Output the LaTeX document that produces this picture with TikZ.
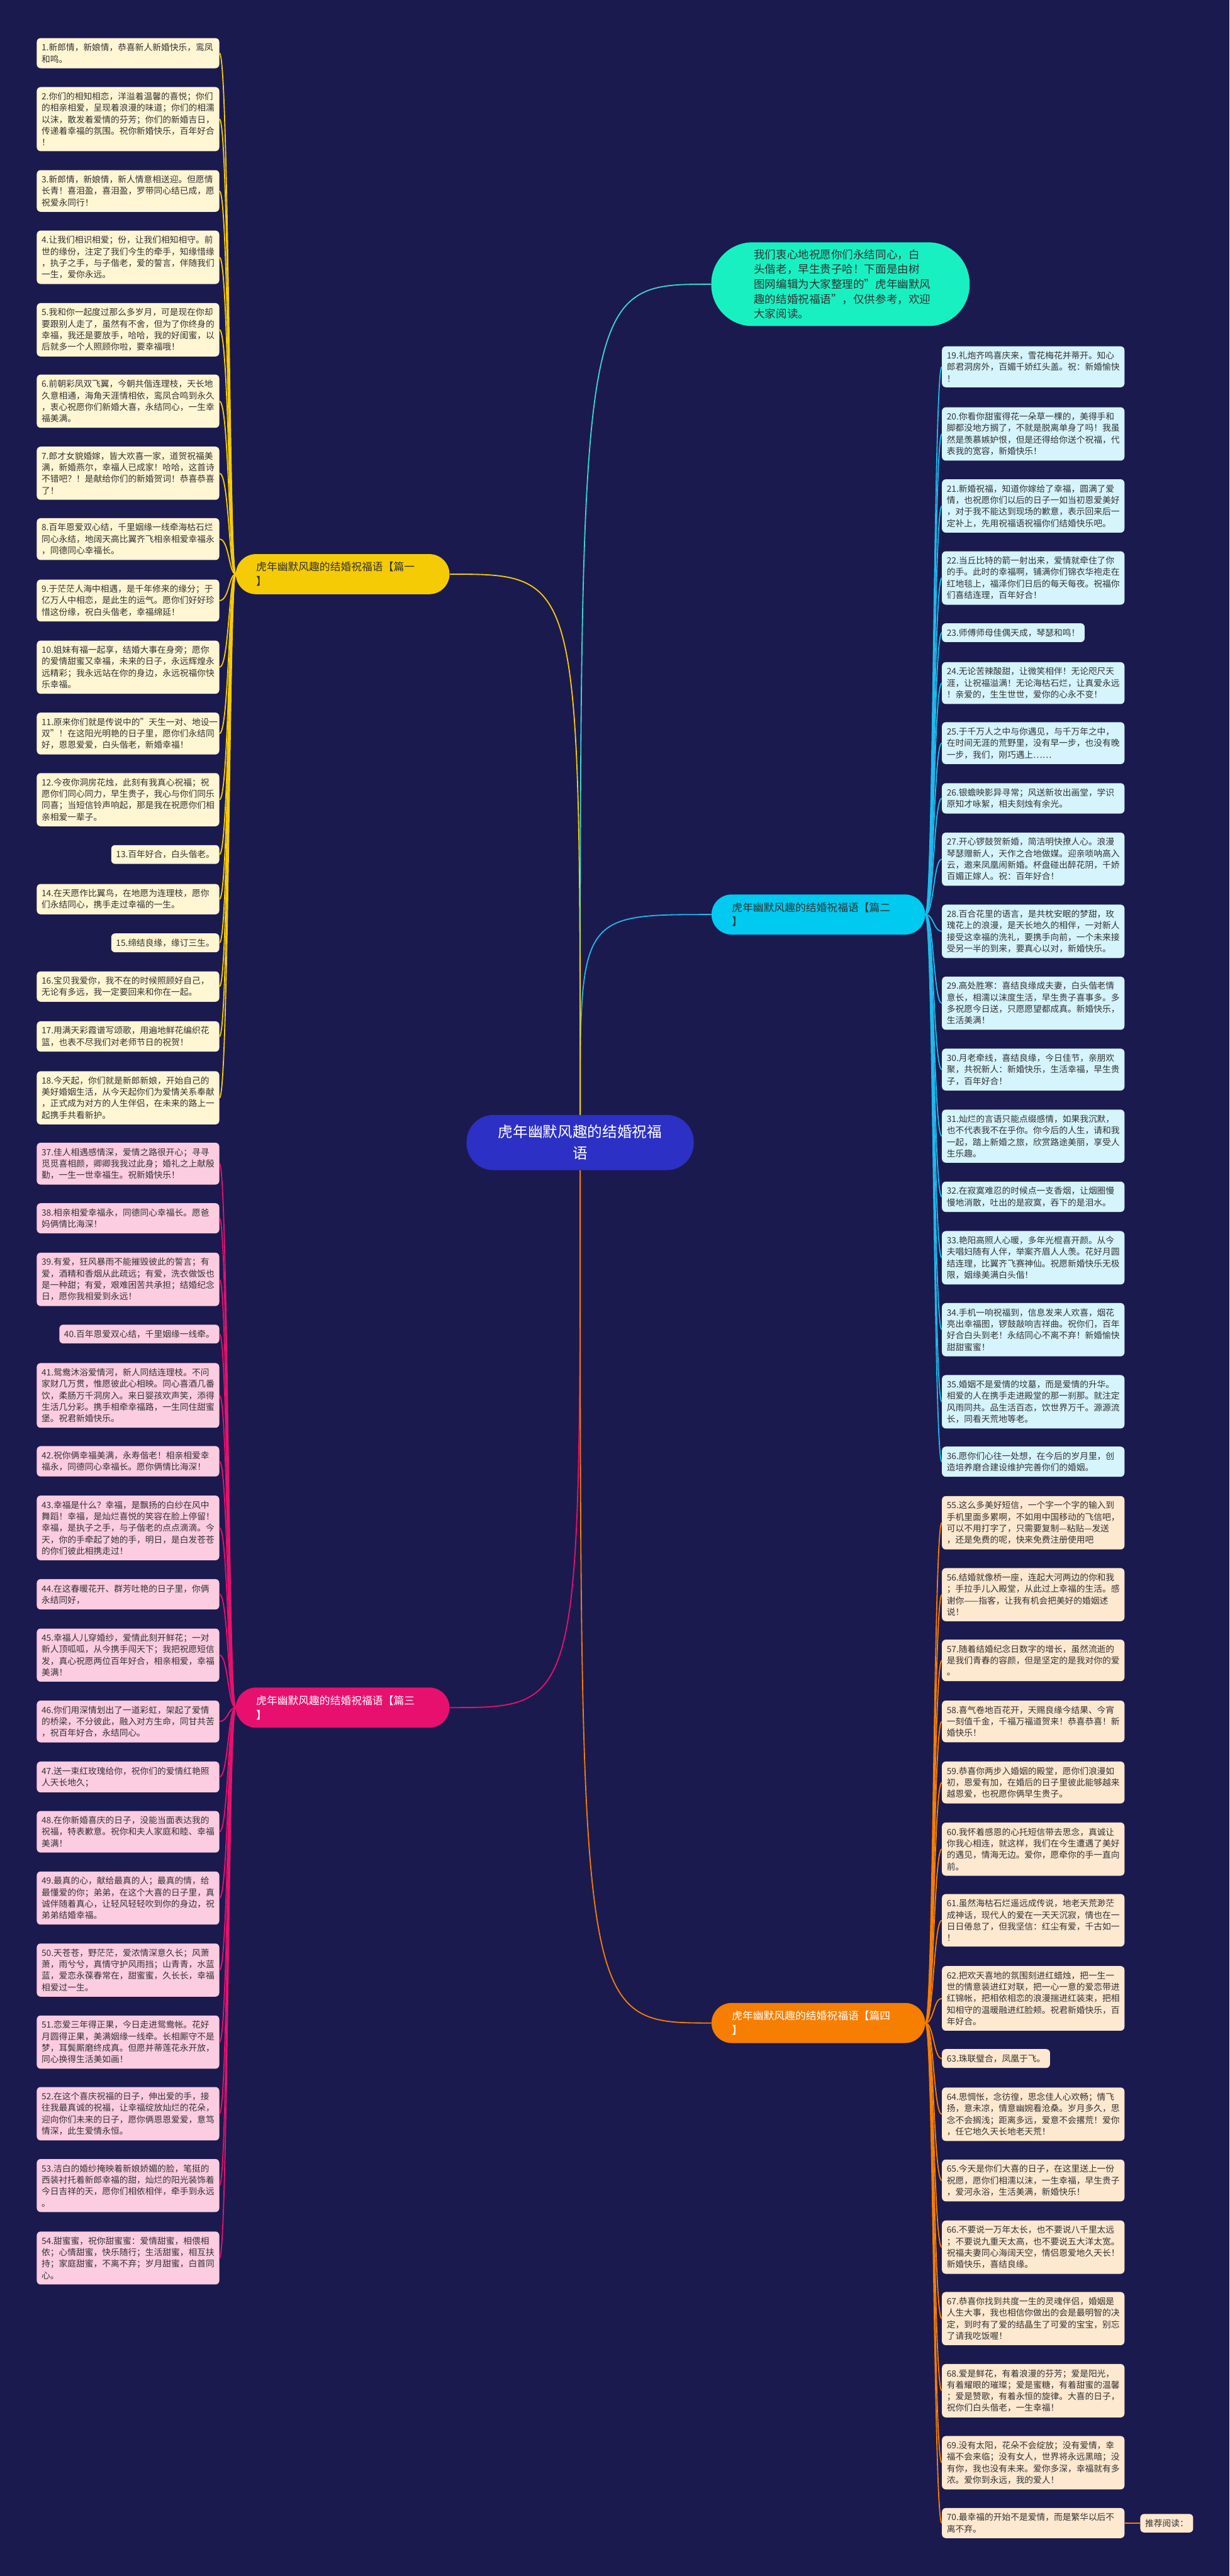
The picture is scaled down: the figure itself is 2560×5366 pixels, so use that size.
\documentclass[tikz,border=0pt]{standalone}
\usepackage{fontspec}
\setmainfont{Noto Sans CJK SC}
\definecolor{bgcol}{HTML}{1B1A4F}
\definecolor{rootcol}{HTML}{2D30C4}
\definecolor{introcol}{HTML}{19F0C2}
\definecolor{introline}{HTML}{38D8CA}
\definecolor{ycol}{HTML}{F5CB05}
\definecolor{yleafcol}{HTML}{FFF6D3}
\definecolor{ccol}{HTML}{00CAF0}
\definecolor{clinecol}{HTML}{1FB9EA}
\definecolor{cleafcol}{HTML}{D5F4FC}
\definecolor{pcol}{HTML}{E8106F}
\definecolor{pleafcol}{HTML}{FCCCE1}
\definecolor{ocol}{HTML}{F67E00}
\definecolor{oleafcol}{HTML}{FDE8D0}
\definecolor{txtcol}{HTML}{333333}
\tikzset{
    leafbase/.style={inner xsep=5pt, inner ysep=5.5pt, rounded corners=4pt, align=left, text=txtcol, font=\fontsize{9pt}{12pt}\selectfont},
    leaf/.style={leafbase, text width=180pt},
    yleaf/.style={leaf, fill=yleafcol, anchor=north east},
    cleaf/.style={leaf, fill=cleafcol, anchor=north west},
    pleaf/.style={leaf, fill=pleafcol, anchor=north east},
    oleaf/.style={leaf, fill=oleafcol, anchor=north west},
    branch/.style={text width=180pt, inner xsep=21.25pt, inner ysep=8.25pt, rounded corners=21pt, align=left, font=\fontsize{11pt}{15pt}\selectfont},
    root/.style={fill=rootcol, text=white, minimum width=236.5pt, minimum height=57.5pt, rounded corners=28pt, align=center, font=\fontsize{15.5pt}{22pt}\selectfont},
    intro/.style={fill=introcol, text=txtcol, text width=180pt, inner xsep=44.5pt, inner ysep=7.25pt, rounded corners=43pt, align=left, font=\fontsize{11.5pt}{15.5pt}\selectfont},
    yline/.style={draw=ycol, line width=1.2pt},
    cline/.style={draw=clinecol, line width=1.2pt},
    pline/.style={draw=pcol, line width=1.2pt},
    oline/.style={draw=ocol, line width=1.2pt},
    iline/.style={draw=introline, line width=1.2pt}
}
\begin{document}
\begin{tikzpicture}[x=0.5pt, y=-0.5pt]
        \useasboundingbox (0,0) rectangle (2560,5366);
        \fill[bgcol] (0,0) rectangle (2560,5366);

        \node[root] (root) at (1208,2380) {虎年幽默风趣的结婚祝福\\语};
        \node[intro] (intro) at (1750,592) {我们衷心地祝愿你们永结同心，白\\头偕老，早生贵子哈！下面是由树\\图网编辑为大家整理的"虎年幽默风\\趣的结婚祝福语"，仅供参考，欢迎\\大家阅读。};
        \node[branch, fill=ycol, text=txtcol] (p1) at (713.5,1196) {虎年幽默风趣的结婚祝福语【篇一\\】};
        \node[branch, fill=ccol, text=txtcol] (p2) at (1704,1905) {虎年幽默风趣的结婚祝福语【篇二\\】};
        \node[branch, fill=pcol, text=white] (p3) at (713.5,3557) {虎年幽默风趣的结婚祝福语【篇三\\】};
        \node[branch, fill=ocol, text=white] (p4) at (1704,4214) {虎年幽默风趣的结婚祝福语【篇四\\】};

        \node[yleaf] (l1) at (457,79) {1.新郎情，新娘情，恭喜新人新婚快乐，鸾凤\\和鸣。};
        \node[yleaf] (l2) at (457,181) {2.你们的相知相恋，洋溢着温馨的喜悦；你们\\的相亲相爱，呈现着浪漫的味道；你们的相濡\\以沫，散发着爱情的芬芳；你们的新婚吉日，\\传递着幸福的氛围。祝你新婚快乐，百年好合\\！};
        \node[yleaf] (l3) at (457,354) {3.新郎情，新娘情，新人情意相送迎。但愿情\\长青！喜泪盈，喜泪盈，罗带同心结已成，愿\\祝爱永同行！};
        \node[yleaf] (l4) at (457,480) {4.让我们相识相爱；份，让我们相知相守。前\\世的缘份，注定了我们今生的牵手，知缘惜缘\\，执子之手，与子偕老，爱的誓言，伴随我们\\一生，爱你永远。};
        \node[yleaf] (l5) at (457,631) {5.我和你一起度过那么多岁月，可是现在你却\\要跟别人走了，虽然有不舍，但为了你终身的\\幸福，我还是要放手，哈哈，我的好闺蜜，以\\后就多一个人照顾你啦，要幸福哦！};
        \node[yleaf] (l6) at (457,780) {6.前朝彩凤双飞翼，今朝共偕连理枝，天长地\\久意相通，海角天涯情相依，鸾凤合鸣到永久\\，衷心祝愿你们新婚大喜，永结同心，一生幸\\福美满。};
        \node[yleaf] (l7) at (457,930) {7.郎才女貌婚嫁，皆大欢喜一家，道贺祝福美\\满，新婚燕尔，幸福人已成家！哈哈，这首诗\\不错吧？！是献给你们的新婚贺词！恭喜恭喜\\了！};
        \node[yleaf] (l8) at (457,1079) {8.百年恩爱双心结，千里姻缘一线牵海枯石烂\\同心永结，地阔天高比翼齐飞相亲相爱幸福永\\，同德同心幸福长。};
        \node[yleaf] (l9) at (457,1207) {9.于茫茫人海中相遇，是千年修来的缘分；于\\亿万人中相恋，是此生的运气。愿你们好好珍\\惜这份缘，祝白头偕老，幸福绵延！};
        \node[yleaf] (l10) at (457,1334) {10.姐妹有福一起享，结婚大事在身旁；愿你\\的爱情甜蜜又幸福，未来的日子，永远辉煌永\\远精彩；我永远站在你的身边，永远祝福你快\\乐幸福。};
        \node[yleaf] (l11) at (457,1484) {11.原来你们就是传说中的"天生一对、地设一\\双"！在这阳光明艳的日子里，愿你们永结同\\好，恩恩爱爱，白头偕老，新婚幸福！};
        \node[yleaf] (l12) at (457,1610) {12.今夜你洞房花烛，此刻有我真心祝福；祝\\愿你们同心同力，早生贵子，我心与你们同乐\\同喜；当短信铃声响起，那是我在祝愿你们相\\亲相爱一辈子。};
        \node[yleaf, text width=] (l13) at (457,1760) {13.百年好合，白头偕老。};
        \node[yleaf] (l14) at (457,1841) {14.在天愿作比翼鸟，在地愿为连理枝，愿你\\们永结同心，携手走过幸福的一生。};
        \node[yleaf, text width=] (l15) at (457,1944) {15.缔结良缘，缘订三生。};
        \node[yleaf] (l16) at (457,2023) {16.宝贝我爱你，我不在的时候照顾好自己，\\无论有多远，我一定要回来和你在一起。};
        \node[yleaf] (l17) at (457,2127) {17.用满天彩霞谱写颂歌，用遍地鲜花编织花\\篮，也表不尽我们对老师节日的祝贺！};
        \node[yleaf] (l18) at (457,2231) {18.今天起，你们就是新郎新娘，开始自己的\\美好婚姻生活，从今天起你们为爱情关系奉献\\，正式成为对方的人生伴侣，在未来的路上一\\起携手共看新护。};

        \node[cleaf] (l19) at (1961,721) {19.礼炮齐鸣喜庆来，雪花梅花并蒂开。知心\\郎君洞房外，百媚千娇红头盖。祝：新婚愉快\\！};
        \node[cleaf] (l20) at (1961,848) {20.你看你甜蜜得花一朵草一棵的，美得手和\\脚都没地方搁了，不就是脱离单身了吗！我虽\\然是羡慕嫉妒恨，但是还得给你送个祝福，代\\表我的宽容，新婚快乐！};
        \node[cleaf] (l21) at (1961,998) {21.新婚祝福，知道你嫁给了幸福，圆满了爱\\情，也祝愿你们以后的日子一如当初恩爱美好\\，对于我不能达到现场的歉意，表示回来后一\\定补上，先用祝福语祝福你们结婚快乐吧。};
        \node[cleaf] (l22) at (1961,1148) {22.当丘比特的箭一射出来，爱情就牵住了你\\的手。此时的幸福啊，铺满你们锦衣华袍走在\\红地毯上，福泽你们日后的每天每夜。祝福你\\们喜结连理，百年好合！};
        \node[cleaf, text width=] (l23) at (1961,1298) {23.师傅师母佳偶天成，琴瑟和鸣！};
        \node[cleaf] (l24) at (1961,1379) {24.无论苦辣酸甜，让微笑相伴！无论咫尺天\\涯，让祝福溢满！无论海枯石烂，让真爱永远\\！亲爱的，生生世世，爱你的心永不变！};
        \node[cleaf] (l25) at (1961,1504) {25.于千万人之中与你遇见，与千万年之中，\\在时间无涯的荒野里，没有早一步，也没有晚\\一步，我们，刚巧遇上……};
        \node[cleaf] (l26) at (1961,1631) {26.银蟾映影异寻常；风送新妆出画堂，学识\\原知才咏絮，相夫刻烛有余光。};
        \node[cleaf] (l27) at (1961,1734) {27.开心锣鼓贺新婚，简洁明快撩人心。浪漫\\琴瑟赠新人，天作之合地做媒。迎亲唢呐高入\\云，邀来凤凰闹新婚。杯盘碰出醉花阴，千娇\\百媚正嫁人。祝：百年好合！};
        \node[cleaf] (l28) at (1961,1884) {28.百合花里的语言，是共枕安眠的梦甜，玫\\瑰花上的浪漫，是天长地久的相伴，一对新人\\接受这幸福的洗礼，要携手向前，一个未来接\\受另一半的到来，要真心以对，新婚快乐。};
        \node[cleaf] (l29) at (1961,2034) {29.高处胜寒：喜结良缘成夫妻，白头偕老情\\意长，相濡以沫度生活，早生贵子喜事多。多\\多祝愿今日送，只愿愿望都成真。新婚快乐，\\生活美满！};
        \node[cleaf] (l30) at (1961,2184) {30.月老牵线，喜结良缘，今日佳节，亲朋欢\\聚，共祝新人：新婚快乐，生活幸福，早生贵\\子，百年好合！};
        \node[cleaf] (l31) at (1961,2311) {31.灿烂的言语只能点缀感情，如果我沉默，\\也不代表我不在乎你。你今后的人生，请和我\\一起，踏上新婚之旅，欣赏路途美丽，享受人\\生乐趣。};
        \node[cleaf] (l32) at (1961,2461) {32.在寂寞难忍的时候点一支香烟，让烟圈慢\\慢地消散，吐出的是寂寞，吞下的是泪水。};
        \node[cleaf] (l33) at (1961,2564) {33.艳阳高照人心暖，多年光棍喜开颜。从今\\夫唱妇随有人伴，举案齐眉人人羡。花好月圆\\结连理，比翼齐飞赛神仙。祝愿新婚快乐无极\\限，姻缘美满白头偕！};
        \node[cleaf] (l34) at (1961,2714) {34.手机一响祝福到，信息发来人欢喜，烟花\\亮出幸福图，锣鼓敲响吉祥曲。祝你们，百年\\好合白头到老！永结同心不离不弃！新婚愉快\\甜甜蜜蜜！};
        \node[cleaf] (l35) at (1961,2864) {35.婚姻不是爱情的坟墓，而是爱情的升华。\\相爱的人在携手走进殿堂的那一刹那。就注定\\风雨同共。品生活百态，饮世界万千。源源流\\长，同看天荒地等老。};
        \node[cleaf] (l36) at (1961,3013) {36.愿你们心往一处想，在今后的岁月里，创\\造培养磨合建设维护完善你们的婚姻。};

        \node[pleaf] (l37) at (457,2380) {37.佳人相遇感情深，爱情之路很开心；寻寻\\觅觅喜相颜，卿卿我我过此身；婚礼之上献殷\\勤，一生一世幸福生。祝新婚快乐！};
        \node[pleaf] (l38) at (457,2506) {38.相亲相爱幸福永，同德同心幸福长。愿爸\\妈俩情比海深！};
        \node[pleaf] (l39) at (457,2609) {39.有爱，狂风暴雨不能摧毁彼此的誓言；有\\爱，酒精和香烟从此疏远；有爱，洗衣做饭也\\是一种甜；有爱，艰难困苦共承担；结婚纪念\\日，愿你我相爱到永远！};
        \node[pleaf, text width=] (l40) at (457,2759) {40.百年恩爱双心结，千里姻缘一线牵。};
        \node[pleaf] (l41) at (457,2839) {41.鸳鸯沐浴爱情河，新人同结连理枝。不问\\家财几万贯，惟愿彼此心相映。同心喜酒几番\\饮，柔肠万千洞房入。来日婴孩欢声笑，添得\\生活几分彩。携手相牵幸福路，一生同住甜蜜\\堡。祝君新婚快乐。};
        \node[pleaf] (l42) at (457,3012) {42.祝你俩幸福美满，永寿偕老！相亲相爱幸\\福永，同德同心幸福长。愿你俩情比海深！};
        \node[pleaf] (l43) at (457,3115) {43.幸福是什么？幸福，是飘扬的白纱在风中\\舞蹈！幸福，是灿烂喜悦的笑容在脸上停留！\\幸福，是执子之手，与子偕老的点点滴滴。今\\天，你的手牵起了她的手，明日，是白发苍苍\\的你们彼此相携走过！};
        \node[pleaf] (l44) at (457,3289) {44.在这春暖花开、群芳吐艳的日子里，你俩\\永结同好，};
        \node[pleaf] (l45) at (457,3392) {45.幸福人儿穿婚纱，爱情此刻开鲜花；一对\\新人顶呱呱，从今携手闯天下；我把祝愿短信\\发，真心祝愿两位百年好合，相亲相爱，幸福\\美满！};
        \node[pleaf] (l46) at (457,3542) {46.你们用深情划出了一道彩虹，架起了爱情\\的桥梁，不分彼此，融入对方生命，同甘共苦\\，祝百年好合，永结同心。};
        \node[pleaf] (l47) at (457,3669) {47.送一束红玫瑰给你，祝你们的爱情红艳照\\人天长地久；};
        \node[pleaf] (l48) at (457,3772) {48.在你新婚喜庆的日子，没能当面表达我的\\祝福，特表歉意。祝你和夫人家庭和睦、幸福\\美满！};
        \node[pleaf] (l49) at (457,3898) {49.最真的心，献给最真的人；最真的情，给\\最懂爱的你；弟弟，在这个大喜的日子里，真\\诚伴随着真心，让轻风轻轻吹到你的身边，祝\\弟弟结婚幸福。};
        \node[pleaf] (l50) at (457,4048) {50.天苍苍，野茫茫，爱浓情深意久长；风萧\\萧，雨兮兮，真情守护风雨挡；山青青，水蓝\\蓝，爱恋永葆春常在，甜蜜蜜，久长长，幸福\\相爱过一生。};
        \node[pleaf] (l51) at (457,4198) {51.恋爱三年得正果，今日走进鸳鸯帐。花好\\月圆得正果，美满姻缘一线牵。长相厮守不是\\梦，耳鬓厮磨终成真。但愿并蒂莲花永开放，\\同心换得生活美如画！};
        \node[pleaf] (l52) at (457,4347) {52.在这个喜庆祝福的日子，伸出爱的手，接\\往我最真诚的祝福，让幸福绽放灿烂的花朵，\\迎向你们未来的日子，愿你俩恩恩爱爱，意笃\\情深，此生爱情永恒。};
        \node[pleaf] (l53) at (457,4497) {53.洁白的婚纱掩映着新娘娇媚的脸，笔挺的\\西装衬托着新郎幸福的甜，灿烂的阳光装饰着\\今日吉祥的天，愿你们相依相伴，牵手到永远\\。};
        \node[pleaf] (l54) at (457,4648) {54.甜蜜蜜，祝你甜蜜蜜：爱情甜蜜，相偎相\\依；心情甜蜜，快乐随行；生活甜蜜，相互扶\\持；家庭甜蜜，不离不弃；岁月甜蜜，白首同\\心。};

        \node[oleaf] (l55) at (1961,3116) {55.这么多美好短信，一个字一个字的输入到\\手机里面多累啊，不如用中国移动的飞信吧，\\可以不用打字了，只需要复制—粘贴—发送\\，还是免费的呢，快来免费注册使用吧};
        \node[oleaf] (l56) at (1961,3266) {56.结婚就像桥一座，连起大河两边的你和我\\；手拉手儿入殿堂，从此过上幸福的生活。感\\谢你——指客，让我有机会把美好的婚姻述\\说！};
        \node[oleaf] (l57) at (1961,3415) {57.随着结婚纪念日数字的增长，虽然流逝的\\是我们青春的容颜，但是坚定的是我对你的爱\\。};
        \node[oleaf] (l58) at (1961,3542) {58.喜气卷地百花开，天赐良缘今结果、今宵\\一刻值千金，千福万福道贺来！恭喜恭喜！新\\婚快乐！};
        \node[oleaf] (l59) at (1961,3669) {59.恭喜你两步入婚姻的殿堂，愿你们浪漫如\\初，恩爱有加，在婚后的日子里彼此能够越来\\越恩爱，也祝愿你俩早生贵子。};
        \node[oleaf] (l60) at (1961,3796) {60.我怀着感恩的心托短信带去思念，真诚让\\你我心相连，就这样，我们在今生遭遇了美好\\的遇见，情海无边。爱你，愿牵你的手一直向\\前。};
        \node[oleaf] (l61) at (1961,3945) {61.虽然海枯石烂遥远成传说，地老天荒渺茫\\成神话，现代人的爱在一天天沉寂，情也在一\\日日倦怠了，但我坚信：红尘有爱，千古如一\\！};
        \node[oleaf] (l62) at (1961,4095) {62.把欢天喜地的氛围刻进红蜡烛，把一生一\\世的情意装进红对联，把一心一意的爱恋带进\\红锦帐，把相依相恋的浪漫揣进红装束，把相\\知相守的温暖融进红脸颊。祝君新婚快乐，百\\年好合。};
        \node[oleaf, text width=] (l63) at (1961,4268) {63.珠联璧合，凤凰于飞。};
        \node[oleaf] (l64) at (1961,4348) {64.思惆怅，念彷徨，思念佳人心欢畅；情飞\\扬，意未凉，情意幽婉看沧桑。岁月多久，思\\念不会搁浅；距离多远，爱意不会撂荒！爱你\\，任它地久天长地老天荒！};
        \node[oleaf] (l65) at (1961,4498) {65.今天是你们大喜的日子，在这里送上一份\\祝愿，愿你们相濡以沫，一生幸福，早生贵子\\，爱河永浴，生活美满，新婚快乐！};
        \node[oleaf] (l66) at (1961,4625) {66.不要说一万年太长，也不要说八千里太远\\；不要说九重天太高，也不要说五大洋太宽。\\祝福夫妻同心海阔天空，情侣恩爱地久天长！\\新婚快乐，喜结良缘。};
        \node[oleaf] (l67) at (1961,4774) {67.恭喜你找到共度一生的灵魂伴侣，婚姻是\\人生大事，我也相信你做出的会是最明智的决\\定，到时有了爱的结晶生了可爱的宝宝，别忘\\了请我吃饭喔！};
        \node[oleaf] (l68) at (1961,4924) {68.爱是鲜花，有着浪漫的芬芳；爱是阳光，\\有着耀眼的璀璨；爱是蜜糖，有着甜蜜的温馨\\；爱是赞歌，有着永恒的旋律。大喜的日子，\\祝你们白头偕老，一生幸福！};
        \node[oleaf] (l69) at (1961,5074) {69.没有太阳，花朵不会绽放；没有爱情，幸\\福不会来临；没有女人，世界将永远黑暗；没\\有你，我也没有未来。爱你多深，幸福就有多\\浓。爱你到永远，我的爱人！};
        \node[oleaf] (l70) at (1961,5224) {70.最幸福的开始不是爱情，而是繁华以后不\\离不弃。};
        \node[leafbase, fill=oleafcol, anchor=west] (rec) at (2374,5256) {推荐阅读：};

        \coordinate (bus1) at (477,1196);
        \coordinate (bus2) at (1944,1905);
        \coordinate (bus3) at (475,3557);
        \coordinate (bus4) at (1944,4214);

        \draw[iline] (root.north) .. controls (root.north |- intro.west) .. (intro.west);
        \draw[cline] (root.north) .. controls (root.north |- p2.west) .. (p2.west);
        \draw[yline] (root.north) .. controls (root.north |- p1.east) .. (p1.east);
        \draw[pline] (root.south) .. controls (root.south |- p3.east) .. (p3.east);
        \draw[oline] (root.south) .. controls (root.south |- p4.west) .. (p4.west);

        \foreach \i in {1,...,18}
            \draw[yline] (p1.west) .. controls (bus1) and (l\i.east -| bus1) .. (l\i.east);
        \foreach \i in {19,...,36}
            \draw[cline] (p2.east) .. controls (bus2) and (l\i.west -| bus2) .. (l\i.west);
        \foreach \i in {37,...,54}
            \draw[pline] (p3.west) .. controls (bus3) and (l\i.east -| bus3) .. (l\i.east);
        \foreach \i in {55,...,70}
            \draw[oline] (p4.east) .. controls (bus4) and (l\i.west -| bus4) .. (l\i.west);
        \draw[oline] (l70.east) -- (rec.west);
    \end{tikzpicture}
\end{document}
